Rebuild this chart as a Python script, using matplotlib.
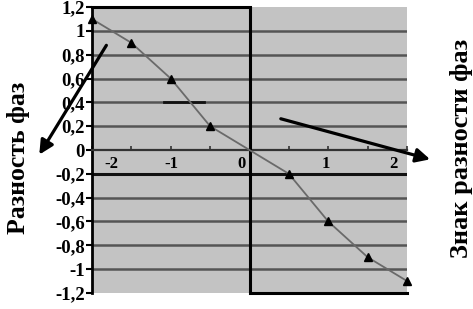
import matplotlib
matplotlib.use('Agg')
import matplotlib.pyplot as plt
import matplotlib.ticker as ticker
import matplotlib.transforms as mtransforms

# values
x_vals = [-2, -1.5, -1, -0.5, 0, 0.5, 1, 1.5, 2]
phase_diff = [1.1, 0.9, 0.6, 0.2, 0, -0.2, -0.6, -0.9, -1.1]
y_ticks = [1.2, 1, 0.8, 0.6, 0.4, 0.2, 0, -0.2, -0.4, -0.6, -0.8, -1, -1.2]
y_labels = ['1,2', '1', '0,8', '0,6', '0,4', '0,2', '0',
            '-0,2', '-0,4', '-0,6', '-0,8', '-1', '-1,2']
x_ticks = [-2, -1, 0, 1, 2]
x_labels = ['-2', '-1', '0', '1', '2']

plt.rcParams['font.family'] = ['Liberation Serif', 'DejaVu Serif']
plt.rcParams['font.weight'] = 'bold'

fig = plt.figure(figsize=(4.73, 3.09), dpi=100)
ax = fig.add_axes([0.1945, 0.052, 0.666, 0.925])
ax.set_facecolor('#c3c3c3')
ax.set_xlim(-2, 2)
ax.set_ylim(-1.2, 1.2)

# horizontal grid
for yv in y_ticks:
    if yv in (1.2, -1.2, 0):
        continue
    if yv == -0.2:
        ax.axhline(yv, color='#111111', lw=2.2, zorder=1)
    else:
        ax.axhline(yv, color='#555555', lw=1.8, zorder=1)
ax.plot([-1.09, -0.58], [0.4, 0.4], color='#111111', lw=2, zorder=1)

# step frame: top-left, centre line, bottom-right
ax.plot([-2, 0], [1.2, 1.2], color='black', lw=2.2, clip_on=False, zorder=3)
ax.axvline(0, color='black', lw=2.2, zorder=3)
ax.plot([0, 2], [-1.2, -1.2], color='black', lw=2.2, clip_on=False, zorder=3)

for s in ['top', 'right']:
    ax.spines[s].set_visible(False)
ax.spines['left'].set_linewidth(2)
ax.spines['bottom'].set_position(('data', 0))
ax.spines['bottom'].set_color('#333333')
ax.spines['bottom'].set_linewidth(1.6)

ax.plot(x_vals, phase_diff, color='#6a6a6a', lw=1.3, zorder=4)
mk = [i for i, v in enumerate(x_vals) if v != 0]
ax.plot([x_vals[i] for i in mk], [phase_diff[i] for i in mk], ls='none',
        marker='^', color='black', ms=6, zorder=5, clip_on=False)

ax.set_yticks(y_ticks)
ax.set_yticklabels(y_labels, fontsize=13.5, fontweight='bold')
ax.tick_params(axis='y', length=4, width=1.5, pad=1)
ax.set_xticks(x_ticks)
ax.set_xticklabels(x_labels, fontsize=12, fontweight='bold')
ax.xaxis.set_minor_locator(ticker.MultipleLocator(0.5))
ax.tick_params(axis='x', which='both', direction='in', length=3, width=1.2,
               pad=4, color='#333333')
# shift labels sideways as in the scan (pixels)
shifts = [19, 1, -8, -2, -14]
for lab, dx in zip(ax.get_xticklabels(), shifts):
    lab.set_transform(lab.get_transform() +
                      mtransforms.ScaledTranslation(dx / 100, 0, fig.dpi_scale_trans))

fig.text(0.040, 0.49, 'Разность фаз', rotation=90, ha='center', va='center',
         fontsize=18.5, fontweight='bold')
fig.text(0.975, 0.52, 'Знак разности фаз', rotation=90, ha='center', va='center',
         fontsize=19, fontweight='bold')

arrow = dict(arrowstyle='-|>,head_length=0.6,head_width=0.3', color='black', lw=2.3)
fig.add_artist(matplotlib.patches.FancyArrowPatch((0.228, 0.861), (0.080, 0.492),
               transform=fig.transFigure, **arrow, mutation_scale=14))
fig.add_artist(matplotlib.patches.FancyArrowPatch((0.588, 0.618), (0.915, 0.482),
               transform=fig.transFigure, **arrow, mutation_scale=14))

fig.savefig('out.png', dpi=100, facecolor='white')
